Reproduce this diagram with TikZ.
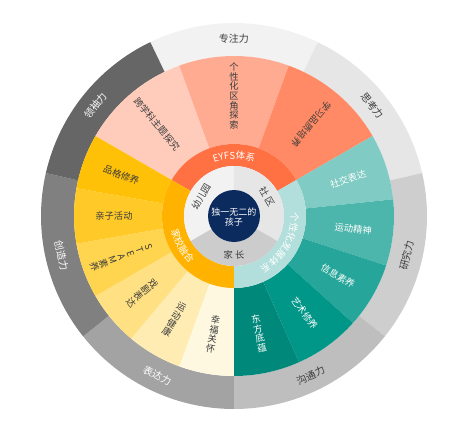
\documentclass[tikz,border=0pt]{standalone}
\usepackage{fontspec}
\setmainfont{Noto Sans CJK SC}
\usetikzlibrary{decorations.text}
% colours of the rings
\definecolor{grA}{HTML}{F2F2F2}
\definecolor{grB}{HTML}{E6E6E6}
\definecolor{grC}{HTML}{CECECE}
\definecolor{grD}{HTML}{BEBEBE}
\definecolor{grE}{HTML}{A3A3A3}
\definecolor{grF}{HTML}{808080}
\definecolor{grG}{HTML}{666666}
\definecolor{orA}{HTML}{FFCCBC}
\definecolor{orB}{HTML}{FFAB91}
\definecolor{orC}{HTML}{FF8A65}
\definecolor{orD}{HTML}{FF7043}
\definecolor{tlA}{HTML}{B2DFDB}
\definecolor{tlB}{HTML}{80CBC4}
\definecolor{tlC}{HTML}{4DB6AC}
\definecolor{tlD}{HTML}{26A69A}
\definecolor{tlE}{HTML}{009688}
\definecolor{tlF}{HTML}{00897B}
\definecolor{amA}{HTML}{FFF8E1}
\definecolor{amB}{HTML}{FFECB3}
\definecolor{amC}{HTML}{FFE082}
\definecolor{amD}{HTML}{FFD54F}
\definecolor{amE}{HTML}{FFCA28}
\definecolor{amF}{HTML}{FFC107}
\definecolor{amG}{HTML}{FFB300}
\definecolor{hbA}{HTML}{F2F2F2}
\definecolor{hbB}{HTML}{E6E6E6}
\definecolor{hbC}{HTML}{CCCCCC}
\definecolor{navy}{HTML}{0B2A5E}
\definecolor{txt}{HTML}{3C3C3C}
\tikzset{
    %Define style for outer ring labels
    ringtext/.style={
           inner sep=0pt,
           font=\fontsize{10}{10}\selectfont},
    %Define style for sector labels
    segtext/.style={
           inner sep=0pt,
           align=center,
           font=\fontsize{9.3}{9.6}\selectfont},
    hubtext/.style={
           inner sep=0pt,
           align=center,
           font=\fontsize{9}{10.5}\selectfont},
    % Define style for curved labels
    arctext/.style={
           decorate,
           decoration={text along path, text align=center, text color=white}}
}
\begin{document}
\begin{tikzpicture}[x=1pt, y=1pt]
    \useasboundingbox (-234,-216) rectangle (238,216);

    % OUTER RING
    \foreach \a/\b/\c in {64.29/115.71/grA, 12.86/64.29/grB, -38.57/12.86/grC,
        -90/-38.57/grD, -141.43/-90/grE, -192.86/-141.43/grF, 115.71/167.14/grG}
        \fill[\c] (\a:160pt) arc[start angle=\a, end angle=\b, radius=160pt]
            -- (\b:193pt) arc[start angle=\b, end angle=\a, radius=193pt] -- cycle;

    % SECTORS
    \foreach \a/\b/\c in {110/150/orA, 70/110/orB, 30/70/orC,
        6/30/tlB, -18/6/tlC, -42/-18/tlD, -66/-42/tlE, -90/-66/tlF,
        250/270/amA, 230/250/amB, 210/230/amC, 190/210/amD, 170/190/amE, 150/170/amF}
        \fill[\c] (\a:72pt) arc[start angle=\a, end angle=\b, radius=72pt]
            -- (\b:160pt) arc[start angle=\b, end angle=\a, radius=160pt] -- cycle;

    % SYSTEMS
    \foreach \a/\b/\c in {30/150/orD, -90/30/tlA, 150/270/amG}
        \fill[\c] (\a:50pt) arc[start angle=\a, end angle=\b, radius=50pt]
            -- (\b:72pt) arc[start angle=\b, end angle=\a, radius=72pt] -- cycle;

    % PARTNERS
    \foreach \a/\b/\c in {90/210/hbA, -30/90/hbB, 210/330/hbC}
        \fill[\c] (\a:26pt) arc[start angle=\a, end angle=\b, radius=26pt]
            -- (\b:50pt) arc[start angle=\b, end angle=\a, radius=50pt] -- cycle;
    \fill[navy] (0,0) circle [radius=26pt];

    % labels
    \foreach \a/\r/\t/\c/\n in {90/0/专注力/txt/focus, 38.57/-51.43/思考力/txt/think,
        -12.86/77.14/研究力/txt/research, -64.29/25.71/沟通力/txt/talk,
        -115.71/-25.71/表达力/white/express, -167.14/-77.14/创造力/white/create,
        141.43/51.43/领袖力/white/lead}
        \node[ringtext, text=\c, rotate=\r] (\n) at (\a:177pt) {\t};

    \foreach \a/\r/\t/\c/\n in {130/-50/跨学科主题探究/txt/cross, 50/-130/学习品质培养/txt/quality,
        18/18/社交表达/white/social, -6/-6/运动精神/white/sport,
        -30/-30/信息素养/white/info, -54/-54/艺术修养/white/art,
        180/0/亲子活动/txt/family, 160/-20/品格修养/txt/moral,
        90/0/{个\\性\\化\\区\\角\\探\\索}/txt/corner, -78/12/{东\\方\\底\\蕴}/white/east,
        260/-10/{幸\\福\\关\\怀}/txt/care, 240/-30/{运\\动\\健\\康}/txt/health,
        220/-50/{戏\\剧\\表\\达}/txt/drama, 200/-70/{S\\T\\E\\A\\M\\素\\养}/txt/steam}
        \node[segtext, text=\c, rotate=\r] (\n) at (\a:120pt) {\t};

    \path[arctext, decoration={text={|\fontsize{9.5}{10}\selectfont|EYFS体系}}]
        (150:57pt) arc[start angle=150, end angle=30, radius=57pt];
    \path[arctext, decoration={text={|\fontsize{9.5}{10}\selectfont|个性化发展体系}}]
        (30:57pt) arc[start angle=30, end angle=-90, radius=57pt];
    \path[arctext, decoration={text={|\fontsize{9.5}{10}\selectfont|家校融合}}]
        (150:64.5pt) arc[start angle=150, end angle=270, radius=64.5pt];

    \node[segtext, text=txt, rotate=60] (school) at (150:38pt) {幼儿园};
    \node[segtext, text=txt, rotate=-60] (community) at (30:38pt) {社 区};
    \node[segtext, text=txt] (parents) at (270:39pt) {家 长};
    \node[hubtext, text=white] (child) at (0,-1) {独一无二的\\孩子};

\end{tikzpicture}
\end{document}
